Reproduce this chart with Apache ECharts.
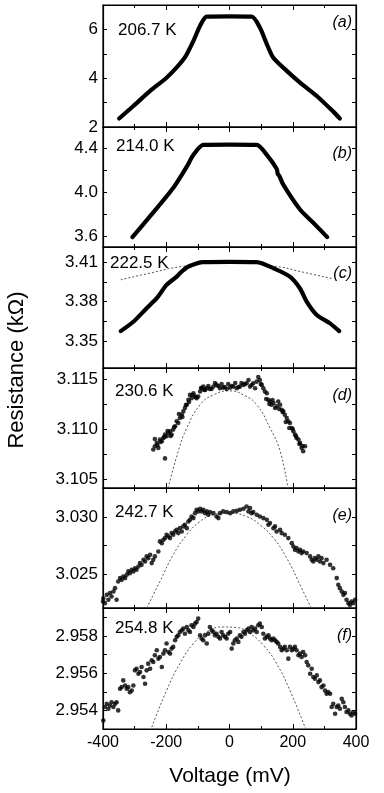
<!DOCTYPE html>
<html><head><meta charset="utf-8">
<script src="https://cdn.jsdelivr.net/npm/echarts@6/dist/echarts.min.js"></script>
<style>html,body{margin:0;padding:0;background:#fff}#c{width:384px;height:793px}</style>
</head><body><div id="c"></div>
<script>
// ---------------- DATA ----------------
const temperatures = ['206.7 K','214.0 K','222.5 K','230.6 K','242.7 K','254.8 K'];
const panelLetters = ['(a)','(b)','(c)','(d)','(e)','(f)'];
const xTickLabels = [-400,-200,0,200,400];

// panel (a) thick curve
const voltA = [-349,-304,-251,-199,-167,-141,-114,-93,-72,0,70,96,118,138,181,223,276,328,349];
const resA  = [2.35,2.86,3.48,4.02,4.44,4.85,5.53,6.15,6.52,6.53,6.52,6.08,5.40,4.85,4.30,3.82,3.27,2.63,2.35];
// panel (b)
const voltB = [-307,-251,-178,-135,-114,-83,0,86,118,149,153,157,170,223,265,309];
const resB  = [3.59,3.78,4.036,4.23,4.337,4.427,4.43,4.427,4.337,4.21,4.16,4.15,4.066,3.84,3.72,3.59];
// panel (c)
const voltC = [-344,-304,-262,-230,-199,-167,-151,-130,-83,0,86,138,191,223,244,276,318,347];
const resC  = [3.3576,3.3647,3.375,3.3826,3.3927,3.399,3.4029,3.4067,3.41,3.4102,3.41,3.4055,3.399,3.39,3.38,3.3698,3.3635,3.3576];
const fitVoltC = [-344,-251,-150,0,150,223,328];
const fitResC  = [3.3966,3.4017,3.4067,3.4100,3.4067,3.4029,3.3973];

// panel (d) scatter
const pointsD = [[-241,3.10795],[-236,3.10828],[-230,3.10861],[-225,3.10811],[-220,3.10894],[-214,3.10878],[-209,3.10911],[-204,3.10944],[-204,3.10706],[-199,3.10927],[-193,3.1096],[-188,3.10977],[-183,3.10944],[-178,3.10994],[-172,3.11027],[-167,3.11077],[-162,3.1106],[-157,3.1111],[-151,3.11143],[-146,3.11176],[-141,3.11209],[-135,3.11242],[-130,3.11292],[-125,3.11341],[-120,3.11308],[-114,3.11358],[-109,3.11325],[-104,3.11308],[-99,3.11325],[-93,3.11375],[-88,3.11408],[-83,3.11424],[-77,3.11391],[-72,3.11408],[-62,3.11401],[-51,3.11424],[-41,3.11441],[-30,3.11408],[-20,3.11414],[-9,3.11401],[2,3.11414],[12,3.11424],[23,3.11408],[33,3.11424],[44,3.11441],[54,3.11457],[65,3.11424],[75,3.11457],[81,3.11408],[86,3.11474],[96,3.1149],[102,3.11441],[107,3.11408],[112,3.11375],[118,3.11358],[123,3.11292],[128,3.11275],[133,3.11242],[139,3.11259],[149,3.11226],[154,3.11275],[160,3.11242],[165,3.11193],[170,3.11176],[175,3.11143],[181,3.1111],[186,3.11077],[191,3.1106],[197,3.1101],[202,3.10977],[207,3.10944],[212,3.10911],[218,3.10894],[223,3.10861],[228,3.10811],[233,3.10778],[239,3.10828],
[-236,3.1090],[-228,3.1084],[-218,3.1087],[-206,3.1092],[-196,3.1098],[-186,3.1093],[-175,3.1102],[-160,3.1115],[-149,3.1112],[-138,3.1124],[-128,3.1127],[-117,3.1134],[-106,3.1132],[-90,3.1141],[-80,3.1139],[-67,3.1143],[-57,3.1140],[-46,3.1146],[-35,3.1143],[-25,3.1145],[-15,3.1142],[-4,3.1145],[7,3.1143],[18,3.1146],[28,3.1142],[38,3.1146],[49,3.1145],[60,3.1149],[70,3.1144],[91,3.1152],[99,3.1145],[116,3.1130],[126,3.1125],[136,3.1129],[144,3.1121],[157,3.1120],[168,3.1117],[178,3.1107],[189,3.1101],[200,3.1100],[210,3.1093],[221,3.1085],[231,3.1083]];
const fitVoltD = [-197,-162,-135,-93,-51,2,44,86,128,160,185];
const fitResD  = [3.1037,3.10778,3.1101,3.11242,3.11341,3.11381,3.11341,3.11242,3.1101,3.10778,3.1040];

// panel (e) scatter
const pointsE = [[-400,3.02266],[-399,3.02295],[-394,3.02252],[-388,3.02324],[-383,3.02281],[-378,3.02339],[-373,3.0231],[-367,3.02353],[-362,3.02382],[-357,3.02281],[-352,3.0244],[-346,3.02469],[-341,3.02454],[-336,3.02483],[-330,3.02469],[-325,3.02498],[-320,3.02527],[-315,3.02512],[-309,3.02541],[-304,3.02527],[-299,3.02555],[-294,3.02541],[-288,3.0257],[-283,3.02599],[-278,3.02584],[-272,3.02628],[-267,3.02613],[-262,3.02657],[-257,3.02642],[-251,3.02671],[-246,3.02599],[-241,3.02628],[-236,3.02657],[-225,3.027],[-220,3.02787],[-214,3.02772],[-209,3.02801],[-204,3.02816],[-199,3.02845],[-193,3.0283],[-188,3.02816],[-183,3.02859],[-178,3.02845],[-172,3.02873],[-167,3.02888],[-162,3.02859],[-157,3.02902],[-151,3.02873],[-146,3.02917],[-141,3.02931],[-135,3.02902],[-130,3.0296],[-125,3.02974],[-120,3.03003],[-114,3.02989],[-109,3.03032],[-104,3.03061],[-99,3.03047],[-93,3.0307],[-88,3.03047],[-83,3.03061],[-77,3.03032],[-72,3.03047],[-67,3.03018],[-62,3.03041],[-51,3.03032],[-41,3.03003],[-35,3.02989],[-30,3.03032],[-20,3.03047],[-9,3.03041],[2,3.03032],[12,3.03047],[23,3.03052],[33,3.03061],[44,3.0307],[54,3.0309],[60,3.03047],[65,3.03076],[70,3.03032],[75,3.03041],[86,3.03018],[96,3.03003],[107,3.02989],[118,3.02974],[123,3.02931],[128,3.02946],[139,3.02902],[144,3.02917],[149,3.02873],[160,3.02888],[165,3.02859],[175,3.02845],[186,3.02816],[197,3.02772],[202,3.02743],[207,3.02714],[212,3.02729],[218,3.027],[223,3.02714],[228,3.02686],[233,3.027],[244,3.02686],[255,3.02657],[260,3.02628],[265,3.02613],[270,3.02642],[276,3.02628],[281,3.02657],[286,3.02613],[291,3.02642],[297,3.02599],[307,3.02628],[318,3.02584],[328,3.02555],[339,3.02469],[344,3.02411],[349,3.02382],[355,3.02353],[360,3.02324],[365,3.02339],[370,3.02281],[376,3.02252],[381,3.02237],[386,3.02266],[391,3.02252],[397,3.02281]];
const fitVoltE = [-262,-220,-178,-135,-93,-51,2,54,96,139,181,223,258];
const fitResE  = [3.0221,3.0244,3.02671,3.02845,3.0296,3.03018,3.03032,3.03003,3.02931,3.02816,3.02642,3.02411,3.0221];

// panel (f) scatter
const pointsF = [[-399,2.95346],[-394,2.95418],[-388,2.95435],[-383,2.95409],[-378,2.95426],[-373,2.95444],[-367,2.95418],[-362,2.95435],[-357,2.95444],[-352,2.954],[-346,2.95516],[-341,2.95525],[-336,2.95561],[-330,2.95534],[-325,2.95516],[-320,2.95525],[-315,2.95498],[-309,2.95507],[-304,2.95534],[-299,2.95615],[-294,2.95624],[-288,2.95597],[-283,2.95606],[-278,2.95633],[-272,2.95579],[-267,2.95543],[-262,2.95615],[-257,2.95651],[-251,2.95624],[-246,2.95669],[-241,2.9566],[-236,2.95696],[-230,2.95723],[-225,2.95678],[-220,2.95687],[-214,2.95633],[-209,2.95705],[-204,2.95723],[-199,2.95759],[-193,2.95714],[-188,2.95705],[-183,2.95732],[-178,2.95741],[-172,2.95777],[-167,2.95795],[-162,2.95803],[-157,2.95821],[-151,2.9583],[-146,2.95839],[-141,2.95812],[-135,2.95848],[-130,2.9583],[-125,2.95821],[-120,2.95857],[-114,2.95848],[-109,2.95866],[-104,2.95875],[-99,2.95893],[-93,2.95803],[-88,2.95786],[-83,2.95777],[-77,2.95803],[-72,2.95759],[-67,2.95812],[-62,2.95848],[-56,2.9583],[-51,2.95821],[-46,2.95803],[-41,2.95812],[-35,2.95795],[-30,2.95786],[-25,2.95821],[-20,2.95803],[-14,2.95795],[-9,2.95786],[-4,2.95812],[2,2.95821],[7,2.95732],[12,2.95759],[17,2.95777],[23,2.95786],[28,2.95768],[33,2.95803],[38,2.95795],[44,2.95821],[49,2.95812],[54,2.9583],[60,2.95839],[65,2.95821],[70,2.95848],[75,2.9583],[81,2.95839],[86,2.95821],[91,2.95857],[96,2.95866],[102,2.95848],[107,2.95812],[112,2.95786],[118,2.95795],[123,2.95803],[128,2.95786],[133,2.95777],[139,2.95786],[144,2.95777],[149,2.95768],[154,2.95759],[160,2.95741],[165,2.95723],[170,2.95732],[175,2.95741],[181,2.95723],[186,2.95678],[191,2.95741],[197,2.95723],[202,2.95732],[207,2.95741],[212,2.95723],[218,2.95696],[223,2.95705],[228,2.95687],[233,2.95714],[239,2.95696],[244,2.9566],[249,2.95642],[255,2.95597],[260,2.95624],[265,2.95579],[270,2.9557],[276,2.95588],[281,2.95552],[286,2.95561],[291,2.95525],[297,2.95534],[302,2.95507],[307,2.95489],[312,2.95498],[318,2.95489],[323,2.95418],[328,2.95435],[334,2.95382],[339,2.95418],[344,2.95426],[349,2.95409],[355,2.95462],[360,2.95444],[365,2.95418],[370,2.95391],[376,2.954],[381,2.95382],[386,2.95373],[391,2.95391],[397,2.95382]];
const fitVoltF = [-250,-199,-157,-114,-72,-20,23,65,107,149,191,243];
const fitResF  = [2.9529,2.95507,2.95651,2.95759,2.95821,2.95848,2.95845,2.95812,2.9575,2.95651,2.95507,2.9529];

// y ranges and tick labels per panel
const yMin = [2, 3.5, 3.3296, 3.1041, 3.0221, 2.953];
const yMax = [7, 4.59, 3.4215, 3.1161, 3.0325, 2.9595];
const yLabelValues = [[2,4,6],[3.6,4.0,4.4],[3.35,3.38,3.41],[3.105,3.110,3.115],[3.025,3.030],[2.954,2.956,2.958]];
const yTickValues = [[2,3,4,5,6],[3.6,3.8,4.0,4.2,4.4],[3.35,3.365,3.38,3.395,3.41],[3.105,3.1075,3.110,3.1125,3.115],[3.025,3.0275,3.030],[2.954,2.955,2.956,2.957,2.958,2.959]];
const yDecimals = [0,1,2,3,3,3];

// ---------------- LAYOUT ----------------
const FONT = '"Liberation Sans", Arial, Helvetica, sans-serif';
const panelTops = [5,127,247,368,488,608];
const panelHeights = [122,120,121,120,120,121];
const gridLeft = 103, gridRight = 28;

const grid = [], xAxis = [], yAxis = [], series = [];
for (let i = 0; i < 6; i++) {
  grid.push({left: gridLeft, right: gridRight, top: panelTops[i], height: panelHeights[i],
             show: true, borderColor: '#000', borderWidth: 1.2, backgroundColor: 'transparent'});
  ['bottom','top'].forEach(pos => {
    xAxis.push({gridIndex: i, type: 'value', position: pos, min: -400, max: 400, interval: 200,
      axisLine: {show: true, onZero: false, lineStyle: {color: '#000', width: 1.2}},
      axisTick: {show: true, inside: true, length: 5, lineStyle: {color: '#000', width: 1}},
      minorTick: {show: true, splitNumber: 2, length: 3, lineStyle: {color: '#000', width: 1}},
      splitLine: {show: false},
      axisLabel: {show: (i === 5 && pos === 'bottom'), color: '#000', fontFamily: FONT, fontSize: 16, margin: 6,
                  customValues: xTickLabels}
    });
  });
  ['left','right'].forEach(pos => {
    yAxis.push({gridIndex: i, type: 'value', position: pos, min: yMin[i], max: yMax[i],
      axisLine: {show: true, onZero: false, lineStyle: {color: '#000', width: 1.2}},
      axisTick: {show: true, inside: true, length: 4, customValues: yTickValues[i], lineStyle: {color: '#000', width: 1}},
      splitLine: {show: false},
      axisLabel: {show: pos === 'left', color: '#000', fontFamily: FONT, fontSize: 17, margin: 5,
                  customValues: yLabelValues[i], formatter: v => Number(v).toFixed(yDecimals[i])}
    });
  });
}

function zip(a, b) { return a.map((v, k) => [v, b[k]]); }
function lineSeries(i, xs, ys) {
  return {type: 'line', xAxisIndex: 2*i, yAxisIndex: 2*i, data: zip(xs, ys), symbol: 'none', smooth: 0.25,
          lineStyle: {color: '#000', width: 4.2, cap: 'round', join: 'round'}, z: 3, animation: false};
}
function fitSeries(i, xs, ys) {
  return {type: 'line', xAxisIndex: 2*i, yAxisIndex: 2*i, data: zip(xs, ys), symbol: 'none', smooth: 0.5,
          lineStyle: {color: '#555', width: 1, type: [2, 2]}, z: 2, animation: false};
}
function scatterSeries(i, pts) {
  return {type: 'scatter', xAxisIndex: 2*i, yAxisIndex: 2*i, data: pts, symbol: 'circle', symbolSize: 4.6,
          itemStyle: {color: '#000'}, z: 3, animation: false};
}
series.push(lineSeries(0, voltA, resA));
series.push(lineSeries(1, voltB, resB));
series.push(fitSeries(2, fitVoltC, fitResC));
series.push(lineSeries(2, voltC, resC));
series.push(fitSeries(3, fitVoltD, fitResD));
series.push(scatterSeries(3, pointsD));
series.push(fitSeries(4, fitVoltE, fitResE));
series.push(scatterSeries(4, pointsE));
series.push(fitSeries(5, fitVoltF, fitResF));
series.push(scatterSeries(5, pointsF));

const tempPos = [[118,31],[116,147],[110,264],[115,392],[115,513],[115,629]];
const letterPos = [[352,24],[352,155],[352,275],[352,397],[352,517],[352,637]];
const graphic = [];
for (let i = 0; i < 6; i++) {
  graphic.push({type: 'text', left: tempPos[i][0], top: tempPos[i][1] - 9, z: 10,
    style: {text: temperatures[i], fill: '#000', font: '17px ' + FONT}});
  graphic.push({type: 'text', right: 384 - letterPos[i][0], top: letterPos[i][1] - 9, z: 10,
    style: {text: panelLetters[i], fill: '#000', font: 'italic 16px ' + FONT}});
}
graphic.push({type: 'text', x: 17, y: 370, rotation: Math.PI/2, z: 10,
  style: {text: 'Resistance (kΩ)', fill: '#000', font: '22px ' + FONT, textAlign: 'center', textVerticalAlign: 'middle'}});
graphic.push({type: 'text', x: 230, y: 776, z: 10,
  style: {text: 'Voltage (mV)', fill: '#000', font: '21px ' + FONT, textAlign: 'center', textVerticalAlign: 'middle'}});

const chart = echarts.init(document.getElementById('c'), null, {renderer: 'canvas'});
chart.setOption({animation: false, backgroundColor: '#fff', grid, xAxis, yAxis, series, graphic});
</script></body></html>
